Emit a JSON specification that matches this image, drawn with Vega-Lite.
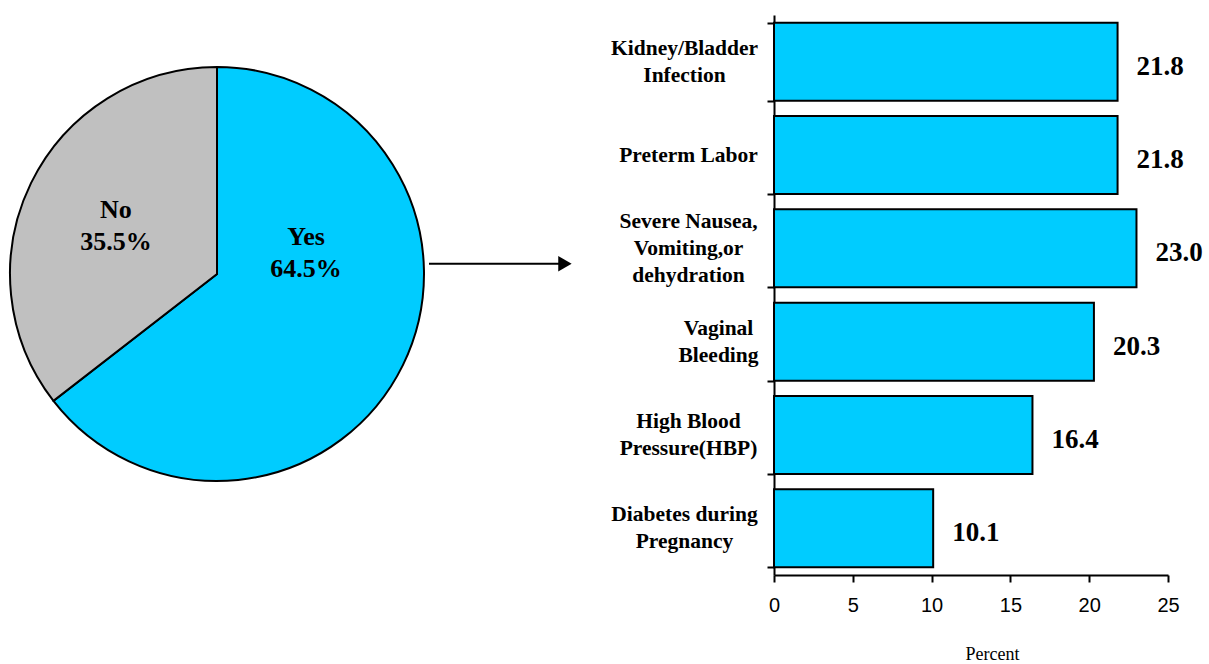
{
  "$schema": "https://vega.github.io/schema/vega-lite/v6.json",
  "padding": {"left": 6, "top": 4, "right": 0, "bottom": 0},
  "background": "white",
  "spacing": 0,
  "config": {"view": {"stroke": null}, "concat": {"spacing": 0}},
  "hconcat": [
    {
      "width": 414,
      "height": 518,
      "data": {"values": [
        {"answer": "Yes", "pct": 64.5, "label": ["Yes", "64.5%"]},
        {"answer": "No", "pct": 35.5, "label": ["No", "35.5%"]}
      ]},
      "layer": [
        {
          "mark": {"type": "arc", "stroke": "black", "strokeWidth": 2},
          "encoding": {
            "theta": {"field": "pct", "type": "quantitative", "stack": true},
            "order": {"field": "answer", "sort": "descending"},
            "color": {"field": "answer", "type": "nominal", "scale": {"domain": ["Yes", "No"], "range": ["#00CCFF", "#C0C0C0"]}, "legend": null}
          }
        },
        {
          "mark": {"type": "text", "font": "Liberation Serif", "fontWeight": "bold", "fontSize": 26, "lineHeight": 32, "color": "black", "baseline": "middle", "align": "center", "dy": -16},
          "encoding": {
            "theta": {"field": "pct", "type": "quantitative", "stack": true, "scale": {"domain": [14.72, 97.0], "nice": false, "zero": false}},
            "radius": {"field": "pct", "type": "quantitative", "scale": {"type": "linear", "domain": [35.5, 64.5], "range": [112, 91.5], "zero": false, "nice": false}},
            "order": {"field": "answer", "sort": "descending"},
            "text": {"field": "label"}
          }
        }
      ],
      "resolve": {"scale": {"theta": "independent", "radius": "independent"}}
    },
    {
      "width": 181,
      "height": 518,
      "data": {"values": [{}]},
      "layer": [
        {
          "mark": {"type": "rule", "color": "black", "strokeWidth": 2},
          "encoding": {
            "x": {"datum": 0.0, "type": "quantitative", "scale": {"domain": [0, 1]}, "axis": null},
            "x2": {"datum": 0.74},
            "y": {"datum": 0.52, "type": "quantitative", "scale": {"domain": [0, 1]}, "axis": null}
          }
        },
        {
          "mark": {"type": "point", "shape": "triangle-right", "filled": true, "color": "black", "size": 240, "opacity": 1},
          "encoding": {
            "x": {"datum": 0.751, "type": "quantitative", "scale": {"domain": [0, 1]}, "axis": null},
            "y": {"datum": 0.52, "type": "quantitative", "scale": {"domain": [0, 1]}, "axis": null}
          }
        }
      ]
    },
    {
      "width": 394,
      "height": 560,
      "data": {"values": [
        {"cond": "Kidney/Bladder|Infection", "pct": 21.8},
        {"cond": "Preterm Labor", "pct": 21.8},
        {"cond": "Severe Nausea,|Vomiting,or|dehydration", "pct": 23.0},
        {"cond": "Vaginal|Bleeding", "pct": 20.3},
        {"cond": "High Blood|Pressure(HBP)", "pct": 16.4},
        {"cond": "Diabetes during|Pregnancy", "pct": 10.1}
      ]},
      "encoding": {
        "y": {
          "field": "cond", "type": "nominal", "sort": null,
          "scale": {"paddingInner": 0.165, "paddingOuter": 0.0825},
          "axis": {
            "title": null,
            "labelExpr": "split(datum.label, '|')",
            "labelAlign": "center",
            "labelBaseline": "middle",
            "labelPadding": {"condition": [
              {"test": "datum.value == 'Vaginal|Bleeding'", "value": 49},
              {"test": "datum.value == 'Kidney/Bladder|Infection' || datum.value == 'Diabetes during|Pregnancy'", "value": 83}
            ], "value": 79},
            "labelOffset": {"condition": [
              {"test": "datum.value == 'Severe Nausea,|Vomiting,or|dehydration'", "value": -27},
              {"test": "datum.value == 'Preterm Labor'", "value": 0}
            ], "value": -13.5},
            "labelFont": "Liberation Serif",
            "labelFontWeight": "bold",
            "labelFontSize": 21.5,
            "labelColor": "black",
            "labelLineHeight": 27,
            "labelLimit": 0,
            "tickBand": "extent",
            "tickSize": 7,
            "tickWidth": 2,
            "tickColor": "black",
            "domainColor": "black",
            "domainWidth": 2
          }
        },
        "x": {
          "field": "pct", "type": "quantitative",
          "scale": {"domain": [0, 25]},
          "axis": {
            "values": [0, 5, 10, 15, 20, 25],
            "grid": false,
            "title": "Percent",
            "titleFont": "Liberation Serif",
            "titleFontWeight": "normal",
            "titleFontSize": 18,
            "titleColor": "black",
            "titleX": 218,
            "titlePadding": 30,
            "labelFont": "Liberation Sans",
            "labelFontSize": 20,
            "labelColor": "black",
            "labelPadding": 13,
            "labelFlush": false,
            "tickSize": 7,
            "tickWidth": 2,
            "tickColor": "black",
            "domainColor": "black",
            "domainWidth": 2
          }
        }
      },
      "layer": [
        {"mark": {"type": "bar", "fill": "#00CCFF", "stroke": "black", "strokeWidth": 2}},
        {
          "mark": {"type": "text", "align": "left", "baseline": "middle", "dx": 19, "dy": 5, "font": "Liberation Serif", "fontWeight": "bold", "fontSize": 27, "color": "black"},
          "encoding": {"text": {"field": "pct", "type": "quantitative", "format": ".1f"}}
        }
      ]
    }
  ]
}
